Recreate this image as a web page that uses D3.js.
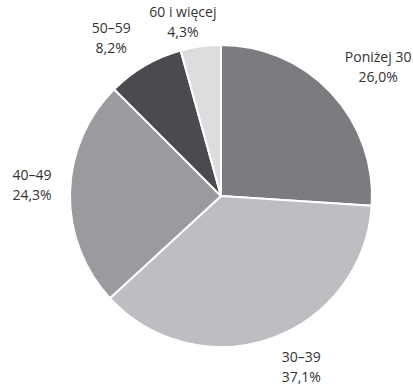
<!DOCTYPE html>
<html>
<head>
<meta charset="utf-8">
<script src="https://cdn.jsdelivr.net/npm/d3@7/dist/d3.min.js"></script>
<style>
  html, body { margin: 0; padding: 0; background: #ffffff; }
  svg { display: block; }
</style>
</head>
<body>
<svg id="chart" width="413" height="388"></svg>
<script>
// Age groups and their shares (%)
const categories = ["Poniżej 30", "30–39", "40–49", "50–59", "60 i więcej"];
const values = [26.0, 37.1, 24.3, 8.2, 4.3];
const valueLabels = ["26,0%", "37,1%", "24,3%", "8,2%", "4,3%"];
const colors = ["#7b7c80", "#bdbec1", "#9a9b9f", "#4a4b4e", "#dcdddf"];

// Layout
const width = 413, height = 388;
const cx = 221, cy = 196, radius = 151;
const labelRadius = 190;
// small per-label shifts so text blocks sit clear of the pie edge
const labelNudge = [[18.5, 1], [17, -8], [1, -7], [-14, 6], [-12.5, 14]];

const svg = d3.select("#chart");
const g = svg.append("g").attr("transform", `translate(${cx},${cy})`);

const pie = d3.pie().sort(null).value(d => d.value);
const data = categories.map((c, i) => ({ name: c, value: values[i], label: valueLabels[i], idx: i }));
const arcs = pie(data);

const arc = d3.arc().innerRadius(0).outerRadius(radius);
const labelArc = d3.arc().innerRadius(labelRadius).outerRadius(labelRadius);

g.selectAll("path.slice")
  .data(arcs)
  .join("path")
  .attr("class", "slice")
  .attr("d", arc)
  .attr("fill", d => colors[d.data.idx])
  .attr("stroke", "#ffffff")
  .attr("stroke-width", 2)
  .attr("stroke-linejoin", "round");

const labels = g.selectAll("text.lbl")
  .data(arcs)
  .join("text")
  .attr("class", "lbl")
  .attr("text-anchor", "middle")
  .attr("font-family", "'Open Sans', sans-serif")
  .attr("font-size", 14)
  .attr("fill", "#333333")
  .attr("transform", d => {
    const [x, y] = labelArc.centroid(d);
    const [nx, ny] = labelNudge[d.data.idx];
    return `translate(${x + nx},${y + ny})`;
  });

labels.append("tspan")
  .attr("x", 0)
  .attr("y", -5)
  .text(d => d.data.name);

labels.append("tspan")
  .attr("x", 0)
  .attr("y", 15)
  .text(d => d.data.label);
</script>
</body>
</html>
